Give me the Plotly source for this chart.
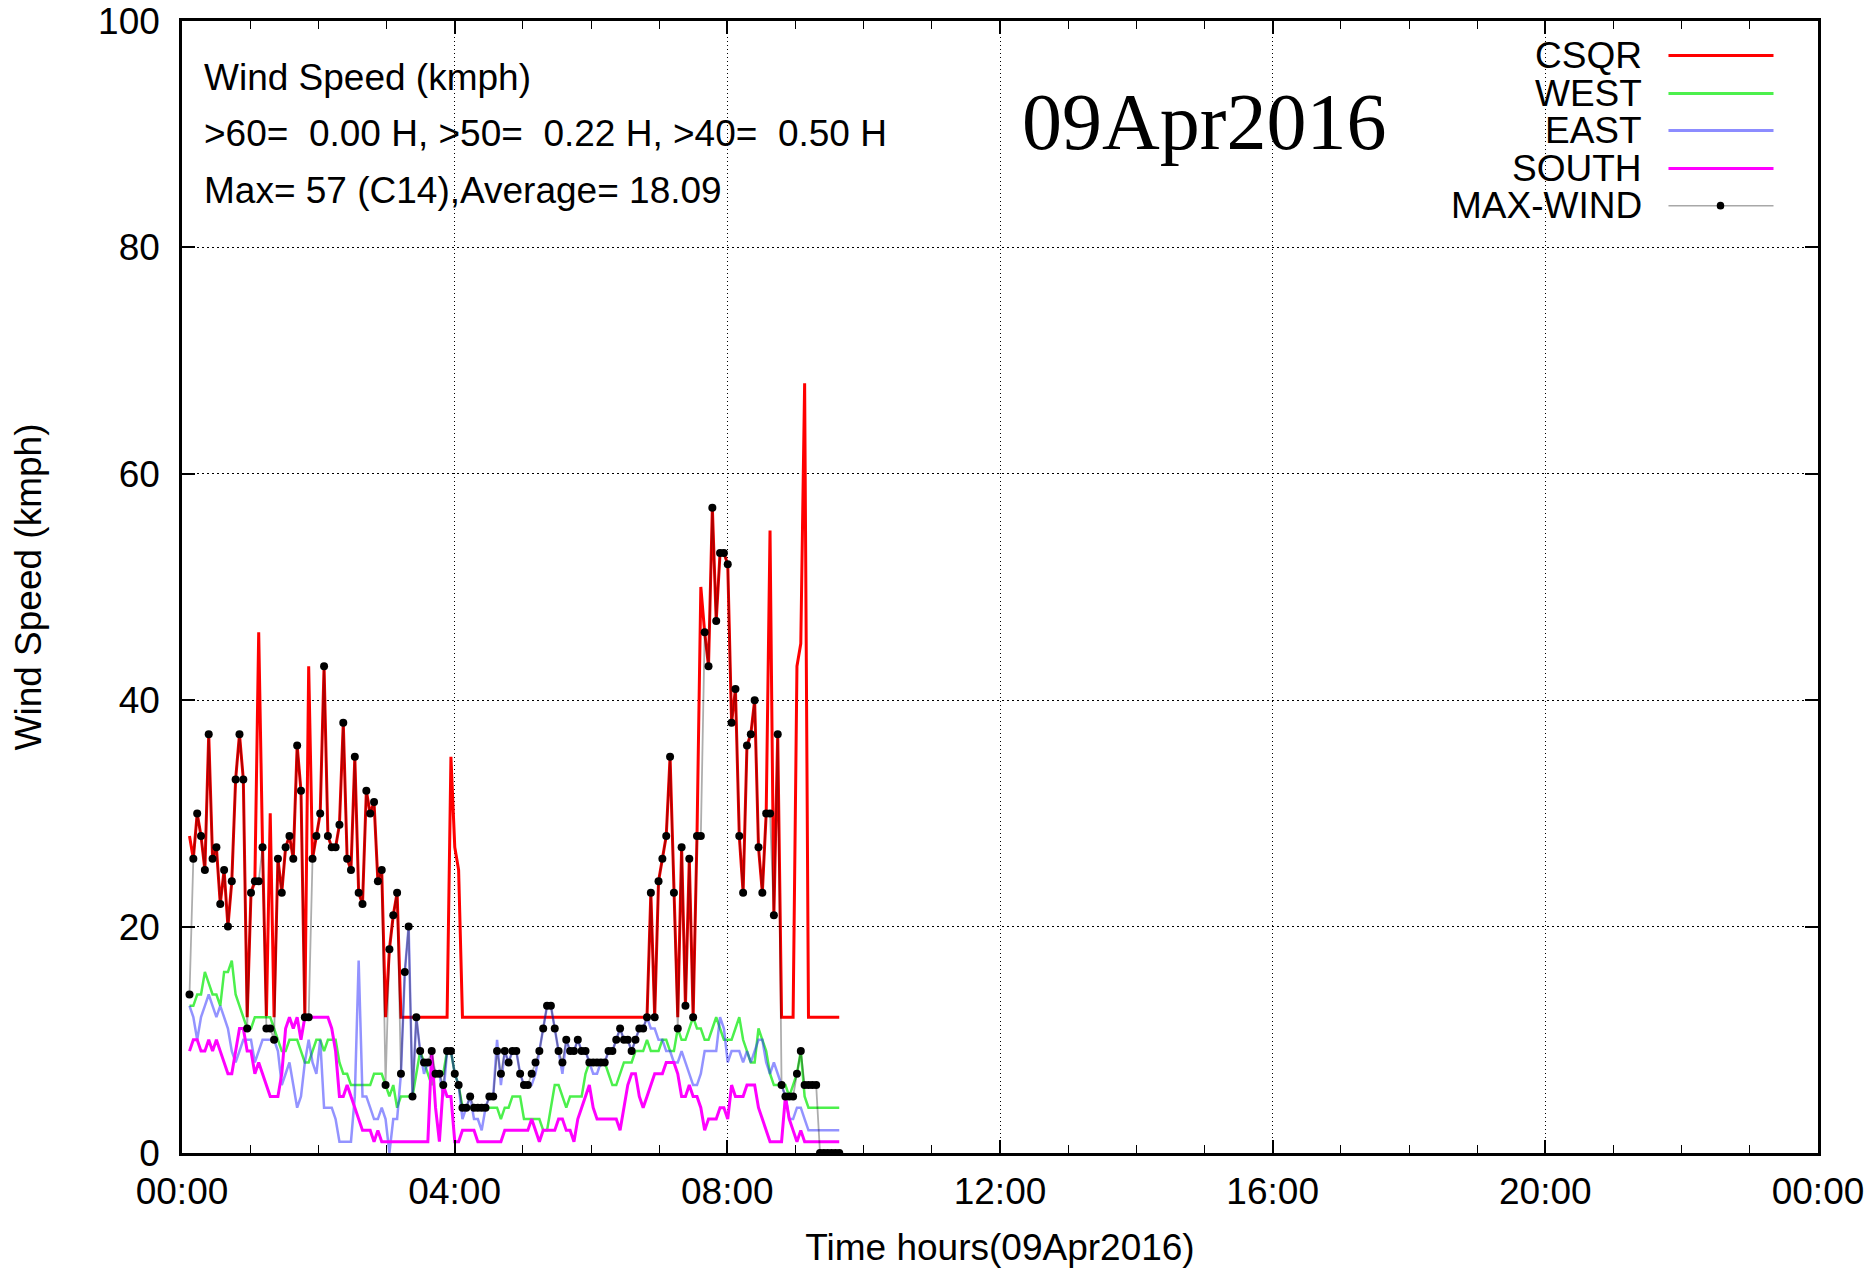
import numpy as np
import pandas as pd
import plotly.graph_objects as go

# ---------------- data ----------------
DATE = "2016-04-09"
T0_MIN = 6.6          # first sample, minutes after midnight
STEP_MIN = 3.384      # sampling interval, minutes

csqr = [28, 26, 30, 28, 25, 37, 26, 27, 22, 25,
        20, 24, 33, 37, 33, 12, 23, 24, 46, 27,
        12, 30, 12, 26, 23, 27, 28, 26, 36, 32,
        12, 43, 26, 28, 30, 43, 28, 27, 27, 29,
        38, 26, 25, 35, 23, 22, 32, 30, 31, 24,
        25, 12, 18, 21, 23, 12, 12, 12, 12, 12,
        12, 12, 12, 12, 12, 12, 12, 12, 35, 27,
        25, 12, 12, 12, 12, 12, 12, 12, 12, 12,
        12, 12, 12, 12, 12, 12, 12, 12, 12, 12,
        12, 12, 12, 12, 12, 12, 12, 12, 12, 12,
        12, 12, 12, 12, 12, 12, 12, 12, 12, 12,
        12, 12, 12, 12, 12, 12, 12, 12, 12, 12,
        23, 12, 24, 26, 28, 35, 23, 12, 27, 13,
        26, 12, 28, 50, 46, 43, 57, 47, 53, 53,
        52, 38, 41, 28, 23, 36, 37, 40, 27, 23,
        30, 55, 21, 37, 12, 12, 12, 12, 43, 45,
        68, 12, 12, 12, 12, 12, 12, 12, 12, 12]

west = [13, 13, 14, 14, 16, 15, 14, 14, 13, 16,
        16, 17, 14, 13, 12, 11, 11, 12, 12, 12,
        12, 12, 11, 10, 9, 9, 10, 10, 10, 9,
        8, 8, 9, 10, 10, 9, 10, 10, 10, 8,
        7, 7, 6, 6, 6, 6, 6, 6, 7, 7,
        7, 6, 5, 6, 4, 5, 5, 5, 5, 7,
        9, 8, 7, 6, 7, 7, 7, 9, 9, 7,
        6, 4, 4, 4, 4, 4, 4, 4, 4, 4,
        4, 3, 4, 4, 5, 5, 5, 3, 3, 3,
        3, 3, 2, 2, 4, 6, 6, 5, 4, 5,
        5, 5, 5, 7, 8, 8, 8, 8, 8, 7,
        6, 6, 7, 8, 8, 8, 9, 9, 9, 10,
        9, 9, 9, 10, 10, 9, 9, 11, 10, 10,
        11, 12, 11, 11, 10, 10, 11, 12, 11, 10,
        10, 10, 11, 12, 10, 9, 8, 8, 11, 10,
        9, 7, 6, 6, 6, 6, 5, 6, 7, 9,
        5, 4, 4, 4, 4, 4, 4, 4, 4, 4]

east = [13, 12, 10, 12, 13, 14, 13, 12, 13, 12,
        11, 9, 8, 9, 10, 10, 10, 8, 9, 10,
        10, 10, 10, 9, 6, 7, 8, 6, 4, 5,
        8, 10, 8, 7, 10, 4, 4, 4, 3, 1,
        1, 1, 1, 5, 17, 5, 5, 4, 3, 3,
        4, 3, 0, 3, 3, 7, 16, 20, 5, 12,
        9, 7, 8, 8, 7, 7, 5, 9, 9, 7,
        6, 3, 4, 5, 3, 3, 2, 4, 5, 5,
        10, 6, 9, 8, 9, 9, 7, 6, 6, 6,
        7, 9, 11, 13, 13, 11, 9, 7, 10, 9,
        9, 10, 9, 9, 8, 7, 7, 8, 8, 9,
        9, 10, 11, 10, 10, 9, 10, 11, 11, 12,
        11, 11, 10, 10, 9, 9, 8, 8, 9, 8,
        7, 6, 6, 7, 9, 9, 9, 9, 12, 11,
        8, 9, 9, 9, 8, 9, 8, 9, 10, 10,
        8, 7, 8, 7, 6, 5, 3, 3, 4, 4,
        3, 2, 2, 2, 2, 2, 2, 2, 2, 2]

south = [9, 10, 10, 9, 9, 10, 9, 10, 9, 8,
         7, 7, 9, 11, 11, 9, 9, 7, 8, 7,
         6, 5, 5, 5, 7, 11, 12, 11, 12, 10,
         12, 12, 12, 12, 12, 12, 12, 11, 9, 5,
         5, 6, 5, 4, 3, 2, 2, 2, 1, 2,
         1, 1, 1, 1, 1, 1, 1, 1, 1, 1,
         1, 1, 1, 9, 4, 1, 6, 5, 5, 1,
         1, 2, 2, 2, 2, 1, 1, 1, 1, 1,
         1, 1, 2, 2, 2, 2, 2, 2, 2, 3,
         2, 1, 2, 2, 2, 2, 3, 3, 2, 2,
         1, 3, 4, 5, 6, 4, 3, 3, 3, 3,
         3, 3, 2, 4, 6, 7, 7, 5, 4, 5,
         6, 7, 7, 7, 8, 8, 8, 7, 5, 5,
         6, 5, 5, 4, 2, 3, 3, 3, 4, 4,
         3, 6, 5, 5, 5, 6, 6, 6, 4, 3,
         2, 1, 1, 1, 1, 5, 3, 2, 1, 2,
         1, 1, 1, 1, 1, 1, 1, 1, 1, 1]

max_wind = [14, 26, 30, 28, 25, 37, 26, 27, 22, 25,
            20, 24, 33, 37, 33, 11, 23, 24, 24, 27,
            11, 11, 10, 26, 23, 27, 28, 26, 36, 32,
            12, 12, 26, 28, 30, 43, 28, 27, 27, 29,
            38, 26, 25, 35, 23, 22, 32, 30, 31, 24,
            25, 6, 18, 21, 23, 7, 16, 20, 5, 12,
            9, 8, 8, 9, 7, 7, 6, 9, 9, 7,
            6, 4, 4, 5, 4, 4, 4, 4, 5, 5,
            9, 7, 9, 8, 9, 9, 7, 6, 6, 7,
            8, 9, 11, 13, 13, 11, 9, 8, 10, 9,
            9, 10, 9, 9, 8, 8, 8, 8, 8, 9,
            9, 10, 11, 10, 10, 9, 10, 11, 11, 12,
            23, 12, 24, 26, 28, 35, 23, 11, 27, 13,
            26, 12, 28, 28, 46, 43, 57, 47, 53, 53,
            52, 38, 41, 28, 23, 36, 37, 40, 27, 23,
            30, 30, 21, 37, 6, 5, 5, 5, 7, 9,
            6, 6, 6, 6, 0, 0, 0, 0, 0, 0]

series_names = ["CSQR", "WEST", "EAST", "SOUTH", "MAX-WIND"]
series_colors = ["#ff0000", "#4cf04c", "rgba(40,40,255,0.5)", "#ff00ff", "rgba(0,0,0,0.32)"]
stats_lines = ["Wind Speed (kmph)",
               ">60=  0.00 H, >50=  0.22 H, >40=  0.50 H",
               "Max= 57 (C14),Average= 18.09"]
date_label = "09Apr2016"
x_title = "Time hours(09Apr2016)"
y_title = "Wind Speed (kmph)"

# ---------------- figure ----------------
base = pd.Timestamp(DATE)
n = len(csqr)
times = base + pd.to_timedelta(T0_MIN + STEP_MIN * np.arange(n), unit="min")

FONT = "Liberation Sans, Arial, sans-serif"
FS = 37
fig = go.Figure()
widths = [3.0, 2.5, 2.5, 3.0]
for name, vals, col, w in zip(series_names[:4], [csqr, west, east, south], series_colors[:4], widths):
    fig.add_trace(go.Scatter(x=times, y=vals, mode="lines", name=name,
                             line=dict(color=col, width=w)))
fig.add_trace(go.Scatter(x=times, y=max_wind, mode="lines+markers", name="MAX-WIND",
                         line=dict(color=series_colors[4], width=1.8),
                         marker=dict(color="black", size=8)))

axis_common = dict(showline=True, linecolor="black", linewidth=2.5, mirror="allticks",
                   ticks="inside", tickcolor="black", tickwidth=1.5,
                   showgrid=True, gridcolor="black", gridwidth=1,
                   zeroline=False, tickfont=dict(family=FONT, size=FS, color="black"),
                   automargin=False)

fig.update_xaxes(**axis_common, type="date",
                 range=[base, base + pd.Timedelta(hours=24)],
                 tick0=base, dtick=4 * 3600 * 1000, tickformat="%H:%M",
                 ticklen=13, griddash="1px,3px", ticklabelstandoff=4,
                 minor=dict(dtick=3600 * 1000, ticks="inside", ticklen=8,
                            tickcolor="black", tickwidth=1.2, showgrid=False),
                 title=dict(text=x_title, font=dict(family=FONT, size=FS, color="black"),
                            standoff=26))
fig.update_yaxes(**axis_common, range=[0, 100], dtick=20, ticklen=13,
                 griddash="2px,3px", ticklabelstandoff=12,
                 title=dict(text=y_title, font=dict(family=FONT, size=FS, color="black"),
                            standoff=46))

annotations = []
for k, txt in enumerate(stats_lines):
    annotations.append(dict(xref="paper", yref="paper", x=0.0125, y=0.9505 - 0.05 * k,
                            xanchor="left", yanchor="middle", showarrow=False, text=txt,
                            font=dict(family=FONT, size=FS, color="black")))
annotations.append(dict(xref="paper", yref="paper", x=0.512, y=0.911, xanchor="left",
                        yanchor="middle", showarrow=False, text=date_label,
                        font=dict(family="Liberation Serif, Times New Roman, serif",
                                  size=80, color="black")))

# hand-built key (text left, sample line right), gnuplot style
key_y = [0.9695, 0.9359, 0.9032, 0.8696, 0.8369]
key_w = [3.0, 3.0, 3.0, 3.0, 1.5]
key_cols = ["#ff0000", "#4cf04c", "#8c8cff", "#ff00ff", "#a8a8a8"]
shapes = []
for name, col, yk, w in zip(series_names, key_cols, key_y, key_w):
    annotations.append(dict(xref="paper", yref="paper", x=0.8935, y=yk, xanchor="right",
                            yanchor="middle", showarrow=False, text=name,
                            font=dict(family=FONT, size=FS, color="black")))
    shapes.append(dict(type="line", xref="paper", yref="paper", x0=0.9086, x1=0.9728,
                       y0=yk, y1=yk, line=dict(color=col, width=w)))
shapes.append(dict(type="circle", xref="paper", yref="paper",
                   x0=0.9404 - 0.0023, x1=0.9404 + 0.0023,
                   y0=key_y[4] - 0.0034, y1=key_y[4] + 0.0034,
                   fillcolor="black", line=dict(color="black", width=0)))

fig.update_layout(width=1870, height=1268, margin=dict(l=182, r=52, t=21, b=115),
                  paper_bgcolor="white", plot_bgcolor="white", showlegend=False,
                  annotations=annotations, shapes=shapes,
                  font=dict(family=FONT, size=FS, color="black"))

fig.write_html("out.html", config={"displayModeBar": False},
               post_script="document.body.style.margin='0';document.body.style.overflow='hidden';")
